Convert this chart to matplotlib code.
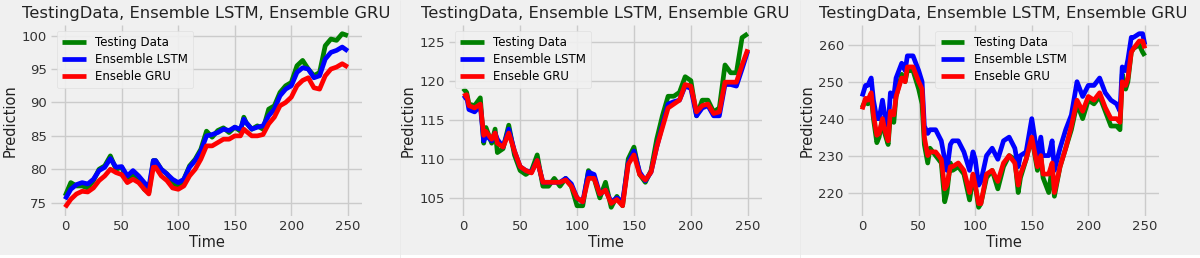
import matplotlib
matplotlib.use("Agg")
import matplotlib.pyplot as plt
from matplotlib.patches import Rectangle
from matplotlib.lines import Line2D

# ---------------- Panel 1 ----------------
t1 = [0, 5, 10, 15, 20, 25, 30, 35, 40, 45, 50, 55, 60, 65, 70, 74, 78, 80, 85, 90, 95,
      100, 105, 110, 115, 120, 125, 130, 135, 140, 145, 150, 155, 158, 160, 165, 170, 175,
      180, 185, 190, 195, 200, 205, 210, 215, 220, 225, 230, 235, 240, 245, 250]
test1 = [76.0, 78.0, 77.5, 77.5, 77.2, 78.3, 80.0, 80.5, 82.0, 80.0, 80.3, 78.5, 79.3, 78.5, 77.0,
         76.5, 81.3, 81.3, 80.0, 79.3, 78.0, 77.3, 78.5, 80.5, 81.5, 83.0, 85.7, 84.8, 85.8, 86.2,
         85.5, 86.3, 85.7, 87.8, 87.0, 86.0, 86.5, 86.0, 89.0, 89.5, 91.5, 92.5, 93.0, 95.5, 96.3,
         95.0, 94.0, 94.5, 98.5, 99.5, 99.3, 100.3, 100.0]
lstm1 = [75.5, 77.0, 77.7, 78.0, 77.8, 78.5, 79.8, 80.3, 81.6, 80.3, 80.4, 79.0, 79.8, 79.0, 78.0,
         77.3, 81.3, 81.3, 80.0, 79.3, 78.5, 78.0, 78.5, 80.3, 81.3, 82.7, 85.0, 85.2, 85.5, 86.0,
         85.8, 86.3, 86.0, 87.5, 87.0, 86.0, 86.3, 86.5, 88.0, 89.0, 91.0, 92.0, 92.5, 94.5, 95.2,
         95.0, 93.7, 94.0, 96.5, 97.5, 97.8, 98.3, 97.7]
gru1 = [74.3, 75.5, 76.3, 76.7, 76.6, 77.2, 78.3, 79.0, 80.0, 79.5, 79.2, 78.0, 78.5, 78.0, 77.0,
        76.3, 80.3, 80.3, 79.0, 78.3, 77.2, 77.0, 77.5, 79.0, 80.0, 81.5, 83.5, 83.5, 84.0, 84.5,
        84.5, 85.0, 85.0, 86.0, 85.7, 85.0, 85.0, 85.2, 86.8, 87.8, 89.5, 90.0, 90.8, 92.5, 93.3,
        93.7, 92.2, 92.0, 94.0, 95.0, 95.3, 95.8, 95.3]

# ---------------- Panel 2 ----------------
t2 = [0, 3, 5, 10, 15, 18, 20, 25, 28, 30, 35, 40, 45, 50, 55, 60, 65, 70, 75, 80, 85, 90, 95,
      100, 105, 110, 115, 120, 125, 130, 135, 140, 145, 150, 155, 160, 165, 170, 175, 180, 185,
      190, 195, 200, 205, 210, 215, 220, 225, 230, 235, 240, 245, 250]
test2 = [119.0, 118.5, 117.0, 116.8, 117.8, 112.0, 114.0, 112.0, 113.8, 110.8, 111.3, 114.3, 110.5,
         108.5, 108.0, 108.5, 110.5, 106.5, 106.5, 107.5, 106.5, 107.5, 106.5, 104.0, 104.0, 108.5,
         107.5, 105.0, 107.0, 103.8, 105.2, 104.0, 110.0, 111.5, 108.0, 107.0, 108.5, 112.5, 115.5,
         118.0, 118.0, 118.5, 120.5, 120.0, 115.5, 117.5, 117.5, 116.0, 116.5, 122.0, 121.0, 121.0,
         125.5, 126.0]
lstm2 = [117.7, 118.0, 116.3, 116.0, 116.8, 112.3, 113.0, 112.3, 113.3, 112.5, 111.5, 113.8, 111.0,
         109.0, 108.5, 108.3, 109.8, 107.0, 107.0, 107.0, 107.0, 107.5, 106.8, 105.0, 104.5, 108.3,
         108.0, 105.5, 106.0, 104.5, 105.0, 104.5, 109.5, 111.0, 108.3, 107.2, 108.3, 111.5, 114.3,
         117.0, 117.3, 117.5, 119.3, 119.0, 115.5, 116.5, 116.8, 115.5, 115.5, 119.5, 119.5, 119.3,
         121.5, 123.8]
gru2 = [118.0, 118.2, 116.8, 116.5, 117.0, 113.0, 113.5, 112.5, 113.3, 112.0, 111.5, 113.3, 111.0,
        109.0, 108.5, 108.2, 109.8, 107.0, 107.0, 107.0, 107.0, 107.3, 106.5, 105.0, 104.5, 107.5,
        107.5, 105.5, 106.0, 104.3, 104.8, 104.0, 109.3, 110.5, 108.0, 107.3, 108.3, 111.5, 114.0,
        116.5, 117.0, 117.5, 119.5, 119.3, 116.0, 116.8, 117.0, 115.8, 116.0, 119.8, 119.8, 119.8,
        122.0, 124.0]

# ---------------- Panel 3 ----------------
t3 = [0, 3, 5, 8, 10, 13, 15, 18, 20, 23, 25, 28, 30, 35, 38, 40, 45, 50, 53, 55, 58, 60, 65,
      70, 73, 75, 78, 80, 85, 90, 95, 98, 100, 103, 105, 110, 115, 120, 125, 130, 135, 138, 140,
      145, 150, 155, 158, 160, 165, 168, 170, 175, 180, 185, 190, 195, 200, 205, 210, 215, 220,
      225, 228, 230, 233, 235, 238, 240, 245, 248, 250]
test3 = [243, 245, 244, 246, 240, 233.5, 235, 240, 236, 233, 241, 239, 246, 252, 250, 253, 253, 248,
         244, 233, 228, 232, 230, 228, 217.5, 220, 228, 226, 227, 225, 218, 224, 222, 216, 217, 224,
         226, 221, 227, 230, 229, 220, 224, 229, 235, 226, 230, 224, 220, 227, 219, 227, 232, 237,
         244, 240, 245, 244, 246, 242, 238, 238, 237, 252, 248, 250, 258, 259, 260, 258, 257]
lstm3 = [246, 249, 249, 251, 245, 240, 240, 245, 241, 238, 247, 246, 251, 255, 253, 257, 257, 253,
         250, 238, 236, 237, 237, 234, 229, 226, 233, 234, 234, 231, 226, 231, 229, 222, 223, 230,
         232, 229, 234, 235, 232, 227, 230, 231, 240, 230, 235, 230, 230, 234, 226, 232, 237, 241,
         250, 246, 249, 249, 251, 247, 245, 244, 242, 254, 253, 256, 262, 262, 263, 263, 260]
gru3 = [242.5, 245.5, 245, 247, 241, 235.5, 236, 240, 237, 234, 242, 241, 246, 251, 250, 254, 254,
        250, 248, 235, 230, 231, 231, 229, 221, 222, 227, 227, 228, 226, 220, 225, 222, 217, 217,
        225, 226, 223, 228, 230, 228, 222, 225, 229, 235, 227, 230, 225, 225, 228, 220, 227, 232,
        238, 245, 242, 246, 245, 247, 243, 240, 240, 239, 250, 249, 251, 258, 259, 261, 261, 259]

title = "TestingData, Ensemble LSTM, Ensemble GRU"
labels = ["Testing Data", "Ensemble LSTM", "Enseble GRU"]
colors = ["green", "blue", "red"]

panels = [(t1, test1, lstm1, gru1, "upper left"),
          (t2, test2, lstm2, gru2, "upper left"),
          (t3, test3, lstm3, gru3, "upper center")]

plt.style.use("fivethirtyeight")
bg = "#f0f0f0"
fig = plt.figure(figsize=(12, 2.58), dpi=100, facecolor=bg)

# faint panel separators and white bottom strip, as in the composed reference image
fig.add_artist(Rectangle((0, 0), 1, 3 / 258, transform=fig.transFigure,
                         facecolor="white", edgecolor="none", zorder=-5))
for xs in (399.5 / 1200, 799.5 / 1200):
    fig.add_artist(Line2D([xs, xs], [0, 1], transform=fig.transFigure,
                          color="#e9e9e9", lw=0.6, zorder=-4))

lefts = [51, 449, 848]
widths = [311, 313, 311]
for i, (t, a, b, c, loc) in enumerate(panels):
    ax = fig.add_axes([lefts[i] / 1200, 42 / 258, widths[i] / 1200, 191 / 258])
    ax.set_facecolor(bg)
    for y, lab, col in zip((a, b, c), labels, colors):
        ax.plot(t, y, color=col, lw=3.4, label=lab)
    ax.set_title(title, fontsize=11.8, pad=5, color="#222222")
    ax.set_xlabel("Time", fontsize=10.5, labelpad=1, color="#222222")
    ax.set_ylabel("Prediction", fontsize=10.5, labelpad=3, color="#222222")
    ax.set_xticks([0, 50, 100, 150, 200, 250])
    ax.tick_params(labelsize=9.5, colors="#333333", pad=3)
    ax.grid(True, color="#cbcbcb", lw=1)
    for s in ax.spines.values():
        s.set_visible(False)
    leg = ax.legend(loc=loc, fontsize=8.5, frameon=True, facecolor=bg,
                    edgecolor="#dddddd", framealpha=0.9, handlelength=2.0,
                    borderpad=0.45, labelspacing=0.32, handletextpad=0.8)
    for line in leg.get_lines():
        line.set_linewidth(3.4)

fig.savefig("out.png", dpi=100, facecolor=bg)
